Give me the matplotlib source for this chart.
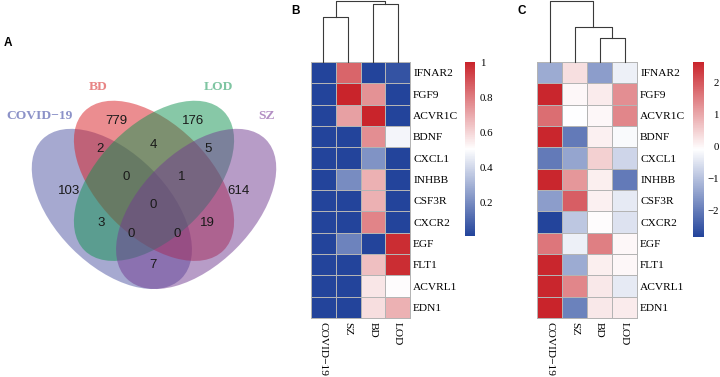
import matplotlib
matplotlib.use("Agg")
import matplotlib.pyplot as plt
import numpy as np
from matplotlib.patches import Ellipse
from matplotlib.colors import LinearSegmentedColormap

plt.rcParams['font.family'] = 'Liberation Serif'

# ---- panel A: venn ----
set_names = ["COVID\u221219", "BD", "LOD", "SZ"]
set_fill = ["#4f55a3", "#d81c22", "#119351", "#713b91"]
set_text_col = ["#8c92c8", "#e88585", "#7fc5a2", "#b38fc4"]
region_names = ["C", "B", "L", "S", "CB", "BL", "LS", "CBL", "BLS",
                "CBLS", "CL", "BS", "CLS", "CBS", "CS"]
region_counts = [103, 779, 176, 614, 2, 4, 5, 0, 1, 0, 3, 19, 0, 0, 7]

# ---- panels B / C: heatmaps ----
genes = ["IFNAR2", "FGF9", "ACVR1C", "BDNF", "CXCL1", "INHBB",
         "CSF3R", "CXCR2", "EGF", "FLT1", "ACVRL1", "EDN1"]
groups = ["COVID\u221219", "SZ", "BD", "LOD"]

vals_b = [
    [0.01, 0.85, 0.01, 0.05],
    [0.01, 1.00, 0.75, 0.01],
    [0.01, 0.72, 1.00, 0.01],
    [0.01, 0.01, 0.76, 0.48],
    [0.01, 0.01, 0.22, 0.01],
    [0.01, 0.20, 0.68, 0.01],
    [0.01, 0.01, 0.68, 0.01],
    [0.01, 0.01, 0.78, 0.01],
    [0.01, 0.18, 0.01, 0.98],
    [0.01, 0.01, 0.65, 0.98],
    [0.01, 0.01, 0.56, 0.51],
    [0.01, 0.01, 0.58, 0.68],
]
vals_c = [
    [-1.3, 0.3, -1.5, -0.3],
    [2.6, 0.0, 0.15, 1.3],
    [1.7, -0.1, 0.0, 1.4],
    [2.6, -2.0, 0.1, -0.15],
    [-2.0, -1.4, 0.5, -0.7],
    [2.6, 1.2, 0.12, -2.0],
    [-1.5, 1.9, 0.1, -0.4],
    [-2.8, -0.9, -0.05, -0.5],
    [1.6, -0.3, 1.5, 0.0],
    [2.6, -1.3, 0.12, 0.0],
    [2.6, 1.4, 0.2, -0.4],
    [2.63, -1.9, 0.2, 0.15],
]
# hierarchical merges (child a, child b, height), leaves 0..3, new clusters 4..
tree_b = [(0, 1, 0.73), (2, 3, 0.94), (4, 5, 1.0)]
tree_c = [(2, 3, 0.385), (1, 4, 0.574), (0, 5, 1.0)]

cmap = LinearSegmentedColormap.from_list("bwr_ph", ["#23449b", "#ffffff", "#c9242b"])

W, H = 720, 377
fig = plt.figure(figsize=(W / 100, H / 100), dpi=100)


def px_axes(x0, y0, x1, y1):
    return fig.add_axes([x0 / W, 1 - y1 / H, (x1 - x0) / W, (y1 - y0) / H])


# venn
ax = px_axes(13.5, 60, 294.5, 341)
ax.set_xlim(0, 1)
ax.set_ylim(0, 1)
ax.axis("off")
ell_xy = [(0.35, 0.47), (0.5, 0.57), (0.5, 0.57), (0.65, 0.47)]
ell_ang = [-45, -45, 45, 45]
for i in range(4):
    ax.add_patch(Ellipse(ell_xy[i], 0.70, 0.40, angle=ell_ang[i],
                         facecolor=set_fill[i], alpha=0.5, lw=0))
region_xy = [(0.199, 0.534), (0.367, 0.784), (0.638, 0.784), (0.800, 0.534),
             (0.308, 0.682), (0.498, 0.698), (0.691, 0.682), (0.400, 0.585),
             (0.599, 0.585), (0.498, 0.484), (0.311, 0.419), (0.690, 0.419),
             (0.418, 0.380), (0.581, 0.380), (0.498, 0.270)]
for (x, y), n in zip(region_xy, region_counts):
    ax.text(x, y, str(n), ha="center", va="center", fontsize=9.5,
            family="Liberation Sans", color="#1a1a1a")
label_xy = [(0.094, 0.800), (0.302, 0.905), (0.729, 0.905), (0.901, 0.800)]
for (x, y), name, c in zip(label_xy, set_names, set_text_col):
    ax.text(x, y, name, ha="center", va="center", fontsize=9.7,
            fontweight="bold", color=c)


def draw_tree(ax, tree):
    pos = {i: i + 0.5 for i in range(4)}
    hgt = {i: 0.0 for i in range(4)}
    k = 4
    for a, b, h in tree:
        xs = [pos[a], pos[a], pos[b], pos[b]]
        ys = [hgt[a], h, h, hgt[b]]
        ax.plot(xs, ys, color="#3a3a3a", lw=0.8, clip_on=False)
        pos[k] = (pos[a] + pos[b]) / 2
        hgt[k] = h
        k += 1
    ax.set_xlim(0, 4)
    ax.set_ylim(0, 1)
    ax.axis("off")


def heatmap(x0, x1, vals, tree, cb_box, ticks, ticklabels, right_align):
    ax = px_axes(x0, 62, x1, 318)
    arr = np.array(vals)
    vmin, vmax = arr.min(), arr.max()
    m = ax.pcolormesh(arr, cmap=cmap, vmin=vmin, vmax=vmax,
                      edgecolors="#b4b4b4", linewidth=0.6)
    m.set_clip_on(False)
    ax.set_xlim(0, 4)
    ax.set_ylim(12, 0)
    ax.yaxis.tick_right()
    ax.set_yticks(np.arange(12) + 0.5, genes)
    ax.set_xticks(np.arange(4) + 0.5, groups, rotation=270, va="top")
    ax.tick_params(axis="y", length=0, labelsize=8.2, pad=2.3)
    ax.tick_params(axis="x", length=0, labelsize=8.2, pad=2.7)
    for s in ax.spines.values():
        s.set_visible(False)

    dax = px_axes(x0, 0.8, x1, 62)
    draw_tree(dax, tree)

    cax = px_axes(*cb_box)
    cb = fig.colorbar(m, cax=cax)
    cb.outline.set_visible(False)
    cb.set_ticks(ticks, labels=ticklabels)
    if right_align:
        cax.tick_params(length=0, labelsize=7.8, pad=10.8)
        for t in cax.get_yticklabels():
            t.set_ha("right")
    else:
        cax.tick_params(length=0, labelsize=7.8, pad=3.6)


heatmap(311, 410, vals_b, tree_b, (465, 62, 475, 236),
        [0.2, 0.4, 0.6, 0.8, 1.0], ["0.2", "0.4", "0.6", "0.8", "1"], False)
heatmap(537, 637, vals_c, tree_c, (693, 62, 704, 236.7),
        [-2, -1, 0, 1, 2], ["\u22122", "\u22121", "0", "1", "2"], True)

for lab, x, y in [("A", 8, 43), ("B", 296, 11), ("C", 522, 11)]:
    fig.text(x / W, 1 - y / H, lab, ha="center", va="center", fontsize=8.5,
             fontweight="bold", family="Liberation Sans")

fig.savefig("out.png", dpi=100)
